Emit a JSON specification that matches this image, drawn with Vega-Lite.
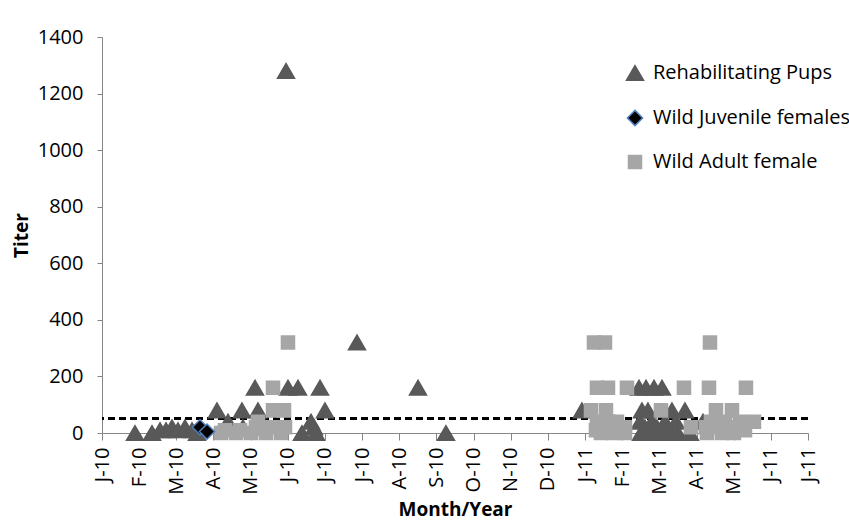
{
  "$schema": "https://vega.github.io/schema/vega-lite/v6.json",
  "width": 706,
  "height": 396,
  "autosize": {"type": "none"},
  "padding": {"left": 102, "top": 37, "right": 41, "bottom": 93},
  "background": "#ffffff",
  "data": {
    "values": [
      {"m": 0.888, "titer": 0, "group": "Rehabilitating Pups"},
      {"m": 1.346, "titer": 0, "group": "Rehabilitating Pups"},
      {"m": 1.561, "titer": 10, "group": "Rehabilitating Pups"},
      {"m": 1.722, "titer": 10, "group": "Rehabilitating Pups"},
      {"m": 1.884, "titer": 20, "group": "Rehabilitating Pups"},
      {"m": 2.045, "titer": 10, "group": "Rehabilitating Pups"},
      {"m": 2.234, "titer": 20, "group": "Rehabilitating Pups"},
      {"m": 2.422, "titer": 10, "group": "Rehabilitating Pups"},
      {"m": 2.557, "titer": 0, "group": "Rehabilitating Pups"},
      {"m": 3.095, "titer": 80, "group": "Rehabilitating Pups"},
      {"m": 3.391, "titer": 40, "group": "Rehabilitating Pups"},
      {"m": 3.767, "titer": 80, "group": "Rehabilitating Pups"},
      {"m": 3.794, "titer": 20, "group": "Rehabilitating Pups"},
      {"m": 4.063, "titer": 20, "group": "Rehabilitating Pups"},
      {"m": 4.198, "titer": 80, "group": "Rehabilitating Pups"},
      {"m": 4.117, "titer": 160, "group": "Rehabilitating Pups"},
      {"m": 4.952, "titer": 1280, "group": "Rehabilitating Pups"},
      {"m": 5.005, "titer": 160, "group": "Rehabilitating Pups"},
      {"m": 5.274, "titer": 160, "group": "Rehabilitating Pups"},
      {"m": 5.867, "titer": 160, "group": "Rehabilitating Pups"},
      {"m": 6.001, "titer": 80, "group": "Rehabilitating Pups"},
      {"m": 5.382, "titer": 0, "group": "Rehabilitating Pups"},
      {"m": 5.624, "titer": 40, "group": "Rehabilitating Pups"},
      {"m": 5.705, "titer": 20, "group": "Rehabilitating Pups"},
      {"m": 5.759, "titer": 0, "group": "Rehabilitating Pups"},
      {"m": 6.862, "titer": 320, "group": "Rehabilitating Pups"},
      {"m": 8.504, "titer": 160, "group": "Rehabilitating Pups"},
      {"m": 9.257, "titer": 0, "group": "Rehabilitating Pups"},
      {"m": 12.917, "titer": 80, "group": "Rehabilitating Pups"},
      {"m": 14.451, "titer": 160, "group": "Rehabilitating Pups"},
      {"m": 14.640, "titer": 160, "group": "Rehabilitating Pups"},
      {"m": 14.855, "titer": 160, "group": "Rehabilitating Pups"},
      {"m": 15.070, "titer": 160, "group": "Rehabilitating Pups"},
      {"m": 14.532, "titer": 80, "group": "Rehabilitating Pups"},
      {"m": 14.693, "titer": 80, "group": "Rehabilitating Pups"},
      {"m": 15.339, "titer": 80, "group": "Rehabilitating Pups"},
      {"m": 15.689, "titer": 80, "group": "Rehabilitating Pups"},
      {"m": 14.478, "titer": 40, "group": "Rehabilitating Pups"},
      {"m": 14.801, "titer": 40, "group": "Rehabilitating Pups"},
      {"m": 15.151, "titer": 40, "group": "Rehabilitating Pups"},
      {"m": 15.447, "titer": 40, "group": "Rehabilitating Pups"},
      {"m": 14.505, "titer": 0, "group": "Rehabilitating Pups"},
      {"m": 14.747, "titer": 0, "group": "Rehabilitating Pups"},
      {"m": 15.016, "titer": 0, "group": "Rehabilitating Pups"},
      {"m": 15.285, "titer": 0, "group": "Rehabilitating Pups"},
      {"m": 15.501, "titer": 0, "group": "Rehabilitating Pups"},
      {"m": 15.824, "titer": 0, "group": "Rehabilitating Pups"},
      {"m": 14.612, "titer": 20, "group": "Rehabilitating Pups"},
      {"m": 14.935, "titer": 20, "group": "Rehabilitating Pups"},
      {"m": 15.231, "titer": 20, "group": "Rehabilitating Pups"},
      {"m": 16.173, "titer": 40, "group": "Rehabilitating Pups"},
      {"m": 5.005, "titer": 320, "group": "Wild Adult female"},
      {"m": 4.602, "titer": 160, "group": "Wild Adult female"},
      {"m": 4.602, "titer": 80, "group": "Wild Adult female"},
      {"m": 4.898, "titer": 80, "group": "Wild Adult female"},
      {"m": 4.198, "titer": 40, "group": "Wild Adult female"},
      {"m": 4.144, "titer": 20, "group": "Wild Adult female"},
      {"m": 4.386, "titer": 20, "group": "Wild Adult female"},
      {"m": 4.656, "titer": 20, "group": "Wild Adult female"},
      {"m": 4.925, "titer": 20, "group": "Wild Adult female"},
      {"m": 3.310, "titer": 10, "group": "Wild Adult female"},
      {"m": 3.714, "titer": 10, "group": "Wild Adult female"},
      {"m": 3.202, "titer": 0, "group": "Wild Adult female"},
      {"m": 3.606, "titer": 0, "group": "Wild Adult female"},
      {"m": 4.010, "titer": 0, "group": "Wild Adult female"},
      {"m": 4.413, "titer": 0, "group": "Wild Adult female"},
      {"m": 4.817, "titer": 0, "group": "Wild Adult female"},
      {"m": 13.240, "titer": 320, "group": "Wild Adult female"},
      {"m": 13.536, "titer": 320, "group": "Wild Adult female"},
      {"m": 16.362, "titer": 320, "group": "Wild Adult female"},
      {"m": 13.321, "titer": 160, "group": "Wild Adult female"},
      {"m": 13.617, "titer": 160, "group": "Wild Adult female"},
      {"m": 14.128, "titer": 160, "group": "Wild Adult female"},
      {"m": 15.662, "titer": 160, "group": "Wild Adult female"},
      {"m": 16.335, "titer": 160, "group": "Wild Adult female"},
      {"m": 17.330, "titer": 160, "group": "Wild Adult female"},
      {"m": 13.159, "titer": 80, "group": "Wild Adult female"},
      {"m": 13.563, "titer": 80, "group": "Wild Adult female"},
      {"m": 15.043, "titer": 80, "group": "Wild Adult female"},
      {"m": 16.523, "titer": 80, "group": "Wild Adult female"},
      {"m": 16.954, "titer": 80, "group": "Wild Adult female"},
      {"m": 13.321, "titer": 40, "group": "Wild Adult female"},
      {"m": 13.644, "titer": 40, "group": "Wild Adult female"},
      {"m": 13.859, "titer": 40, "group": "Wild Adult female"},
      {"m": 16.389, "titer": 40, "group": "Wild Adult female"},
      {"m": 16.765, "titer": 40, "group": "Wild Adult female"},
      {"m": 17.169, "titer": 40, "group": "Wild Adult female"},
      {"m": 17.546, "titer": 40, "group": "Wild Adult female"},
      {"m": 14.074, "titer": 20, "group": "Wild Adult female"},
      {"m": 15.850, "titer": 20, "group": "Wild Adult female"},
      {"m": 16.254, "titer": 20, "group": "Wild Adult female"},
      {"m": 16.658, "titer": 20, "group": "Wild Adult female"},
      {"m": 17.061, "titer": 20, "group": "Wild Adult female"},
      {"m": 13.294, "titer": 10, "group": "Wild Adult female"},
      {"m": 17.304, "titer": 10, "group": "Wild Adult female"},
      {"m": 13.428, "titer": 0, "group": "Wild Adult female"},
      {"m": 13.751, "titer": 0, "group": "Wild Adult female"},
      {"m": 14.074, "titer": 0, "group": "Wild Adult female"},
      {"m": 16.281, "titer": 0, "group": "Wild Adult female"},
      {"m": 16.685, "titer": 0, "group": "Wild Adult female"},
      {"m": 17.007, "titer": 0, "group": "Wild Adult female"},
      {"m": 2.637, "titer": 20, "group": "Wild Juvenile females"},
      {"m": 2.826, "titer": 5, "group": "Wild Juvenile females"}
    ]
  },
  "layer": [
    {
      "mark": {"type": "rule", "color": "#000000", "strokeWidth": 2, "strokeDash": [7, 4]},
      "encoding": {"y": {"datum": 50, "type": "quantitative"}}
    },
    {
      "mark": {"type": "point", "filled": true, "opacity": 1, "strokeWidth": 1.5},
      "encoding": {
        "x": {
          "field": "m",
          "type": "quantitative",
          "title": "Month/Year",
          "scale": {"domain": [0, 19], "nice": false, "zero": false},
          "axis": {
            "values": [0,1,2,3,4,5,6,7,8,9,10,11,12,13,14,15,16,17,18,19],
            "labelExpr": "['J-10','F-10','M-10','A-10','M-10','J-10','J-10','J-10','A-10','S-10','O-10','N-10','D-10','J-11','F-11','M-11','A-11','M-11','J-11','J-11'][datum.value]",
            "labelAngle": 270,
            "labelPadding": 7,
            "tickSize": 7,
            "titlePadding": 6,
            "labelFlush": false,
            "labelOverlap": false,
            "labelBound": false
          }
        },
        "y": {
          "field": "titer",
          "type": "quantitative",
          "title": "Titer",
          "scale": {"domain": [0, 1400], "nice": false},
          "axis": {
            "values": [0, 200, 400, 600, 800, 1000, 1200, 1400],
            "format": "d",
            "tickSize": 5,
            "labelPadding": 14,
            "titlePadding": 6
          }
        },
        "color": {
          "field": "group",
          "type": "nominal",
          "scale": {"domain": ["Rehabilitating Pups", "Wild Juvenile females", "Wild Adult female"], "range": ["#595959", "#000000", "#A6A6A6"]},
          "legend": {"title": null, "orient": "none", "legendX": 523, "legendY": 26}
        },
        "shape": {
          "field": "group",
          "type": "nominal",
          "scale": {"domain": ["Rehabilitating Pups", "Wild Juvenile females", "Wild Adult female"], "range": ["triangle-up", "diamond", "square"]},
          "legend": {"title": null, "orient": "none", "legendX": 523, "legendY": 26}
        },
        "stroke": {
          "field": "group",
          "type": "nominal",
          "scale": {"domain": ["Rehabilitating Pups", "Wild Juvenile females", "Wild Adult female"], "range": ["#595959", "#4F81BD", "#A6A6A6"]},
          "legend": {"title": null, "orient": "none", "legendX": 523, "legendY": 26}
        },
        "size": {
          "field": "group",
          "type": "nominal",
          "scale": {"domain": ["Rehabilitating Pups", "Wild Juvenile females", "Wild Adult female"], "range": [290, 170, 270]},
          "legend": null
        }
      }
    }
  ],
  "config": {
    "view": {"stroke": null},
    "font": "Open Sans",
    "axis": {
      "grid": false,
      "domainColor": "#868686",
      "tickColor": "#868686",
      "labelFont": "Open Sans",
      "labelFontSize": 20,
      "labelColor": "#000000",
      "titleFont": "Open Sans",
      "titleFontSize": 19,
      "titleFontWeight": "bold",
      "titleColor": "#000000"
    },
    "legend": {
      "labelFont": "Open Sans",
      "labelFontSize": 20,
      "labelColor": "#000000",
      "symbolSize": 180,
      "symbolStrokeWidth": 1.5,
      "rowPadding": 23,
      "labelOffset": 8,
      "padding": 0,
      "labelLimit": 400
    }
  }
}
